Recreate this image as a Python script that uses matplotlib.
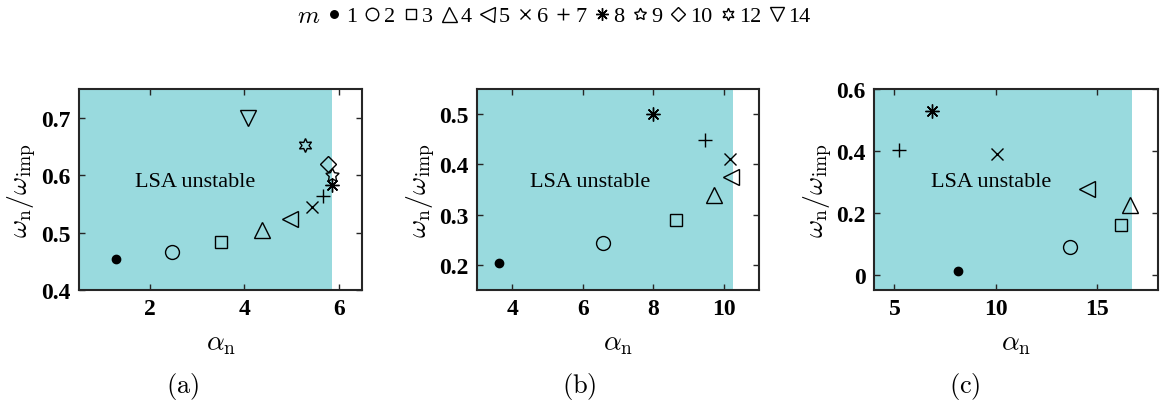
import numpy as np
import matplotlib.pyplot as plt
from matplotlib.lines import Line2D

plt.rcParams['font.family'] = ['Liberation Serif', 'DejaVu Serif']
plt.rcParams['mathtext.fontset'] = 'cm'

# mode numbers and their markers
modes = [1, 2, 3, 4, 5, 6, 7, 8, 9, 10, 12, 14]
markers = ['o', 'o', 's', '^', '<', 'x', '+', (8, 2, 0), (5, 1, 0), 'D', (6, 1, 0), 'v']
msizes = [6, 10, 8.5, 12, 12, 8, 10, 10, 10, 8, 10, 11]

# (a)
a_modes = [1, 2, 3, 4, 5, 6, 7, 8, 9, 10, 12, 14]
a_alpha = [1.28, 2.47, 3.51, 4.38, 4.96, 5.43, 5.66, 5.85, 5.87, 5.77, 5.28, 4.09]
a_omega = [0.454, 0.466, 0.484, 0.505, 0.524, 0.545, 0.564, 0.583, 0.600, 0.620, 0.653, 0.700]

# (b)
b_modes = [1, 2, 3, 4, 5, 6, 7, 8]
b_alpha = [3.61, 6.58, 8.63, 9.72, 10.19, 10.16, 9.46, 7.98]
b_omega = [0.204, 0.243, 0.289, 0.340, 0.376, 0.411, 0.449, 0.500]

# (c)
c_modes = [1, 2, 3, 4, 5, 6, 7, 8]
c_alpha = [8.12, 13.68, 16.2, 16.66, 14.5, 10.05, 5.2, 6.85]
c_omega = [0.013, 0.088, 0.160, 0.225, 0.277, 0.390, 0.403, 0.528]

panels = [
    dict(m=a_modes, x=a_alpha, y=a_omega, xlim=(0.5, 6.5), ylim=(0.4, 0.75), edge=5.85,
         xt=[2, 4, 6], yt=[0.4, 0.5, 0.6, 0.7], txt=(2.96, 0.59), cap='(a)',
         pos=[0.068, 0.283, 0.244, 0.495], capx=183),
    dict(m=b_modes, x=b_alpha, y=b_omega, xlim=(3, 11), ylim=(0.15, 0.55), edge=10.25,
         xt=[4, 6, 8, 10], yt=[0.2, 0.3, 0.4, 0.5], txt=(6.2, 0.366), cap='(b)',
         pos=[0.411, 0.283, 0.243, 0.495], capx=579),
    dict(m=c_modes, x=c_alpha, y=c_omega, xlim=(4, 18), ylim=(-0.05, 0.6), edge=16.75,
         xt=[5, 10, 15], yt=[0, 0.2, 0.4, 0.6], txt=(9.8, 0.30), cap='(c)',
         pos=[0.753, 0.283, 0.244, 0.495], capx=965),
]

shade = '#99DADE'

fig = plt.figure(figsize=(11.61, 4.06), dpi=100)

for p in panels:
    ax = fig.add_axes(p['pos'])
    ax.axvspan(p['xlim'][0], p['edge'], color=shade, lw=0, zorder=0)
    for m, x, y in zip(p['m'], p['x'], p['y']):
        i = modes.index(m)
        fc = 'k' if m == 1 else 'none'
        ax.plot(x, y, linestyle='none', marker=markers[i], ms=msizes[i],
                mfc=fc, mec='k', mew=1.0, color='k', zorder=3)
    ax.text(p['txt'][0], p['txt'][1], 'LSA unstable', fontsize=16,
            ha='center', va='center')
    ax.set_xlim(p['xlim'])
    ax.set_ylim(p['ylim'])
    ax.set_xticks(p['xt'])
    ax.set_yticks(p['yt'])
    ax.set_yticklabels([('%g' % v) if v != 0 else '0' for v in p['yt']])
    ax.tick_params(direction='in', top=True, right=True, length=4, width=1,
                   labelsize=17, pad=6, color='#262626')
    for lab in ax.get_xticklabels() + ax.get_yticklabels():
        lab.set_fontweight('bold')
    for s in ax.spines.values():
        s.set_linewidth(1.5)
        s.set_color('#262626')
    ax.set_xlabel(r'$\alpha_\mathrm{n}$', fontsize=20, labelpad=8)
    ax.set_ylabel(r'$\omega_\mathrm{n}/\omega_\mathrm{imp}$', fontsize=20, labelpad=2)
    fig.text(p['capx'] / 1161, 1 - 387 / 406, r'$\mathrm{%s}$' % p['cap'],
             fontsize=19, ha='center', va='center')

# shared legend across the top
handles = []
for i, m in enumerate(modes):
    fc = 'k' if m == 1 else 'none'
    handles.append(Line2D([], [], linestyle='none', marker=markers[i], ms=msizes[i] * 0.9,
                          mfc=fc, mec='k', mew=1.0, color='k'))
fig.text(309 / 1161, 1 - 17 / 406, r'$m$', fontsize=18, ha='center', va='center')
fig.legend(handles, [str(m) for m in modes], loc='center', ncol=len(modes),
           bbox_to_anchor=(568 / 1161, 1 - 17 / 406), frameon=False, fontsize=16,
           handlelength=0.8, handletextpad=0.12, columnspacing=0.3, borderpad=0)

fig.savefig('out.png', dpi=100)
